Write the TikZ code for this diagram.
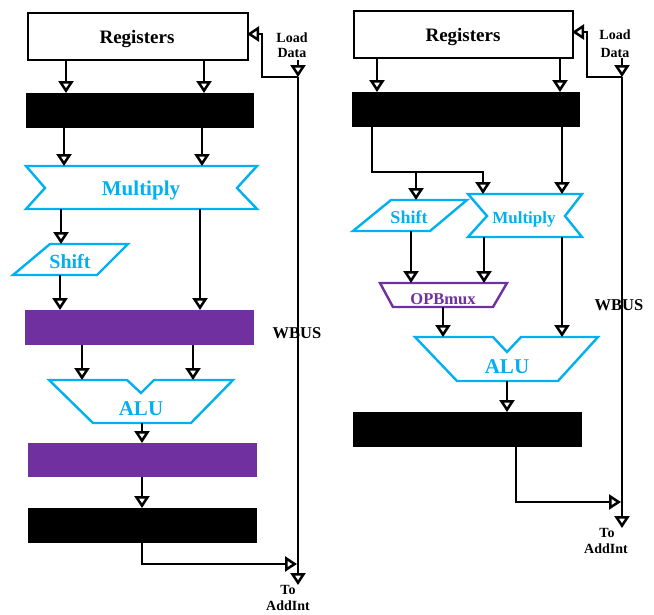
\documentclass[tikz,border=0pt]{standalone}
\usepackage{fontspec}
\setmainfont{Liberation Serif}
\usetikzlibrary{arrows.meta}
\definecolor{cy}{HTML}{00B0F0}
\definecolor{pu}{HTML}{7030A0}
\begin{document}
\begin{tikzpicture}[x=1pt,y=-1pt,
  wire/.style={line width=2.5pt},
  arr/.style={line width=2.5pt,-{Triangle[length=12pt,width=15pt,fill=white]}},
  regbox/.style={draw,line width=2.4pt,fill=white,inner sep=0,anchor=north west},
  blkbox/.style={fill=black,inner sep=0,anchor=north west},
  purbox/.style={fill=pu,inner sep=0,anchor=north west},
  cyshape/.style={draw=cy,line width=2.4pt,fill=white,line join=miter},
  pushape/.style={draw=pu,line width=2.4pt,fill=white},
  lbl/.style={inner sep=0,anchor=base,font=\bfseries},
  cytxt/.style={lbl,text=cy},
  small/.style={lbl,font=\bfseries\fontsize{14}{16}\selectfont},
]
\useasboundingbox (0,0) rectangle (654,614);

% ================= LEFT =================
\node[regbox,minimum width=220pt,minimum height=47pt] (regL) at (27,12) {};
\node[lbl,font=\bfseries\fontsize{19}{21}\selectfont] (regLt) at (137,43) {Registers};
\node[blkbox,minimum width=228pt,minimum height=35pt] (blkL1) at (26,93) {};
\draw[cyshape] (26,166) -- (257,166) -- (237,188) -- (257,209) -- (26,209) -- (45,188) -- cycle;
\node[cytxt,font=\bfseries\fontsize{21}{23}\selectfont] (mulL) at (141,195) {Multiply};
\draw[cyshape] (50,244) -- (128,244) -- (97,275) -- (13,275) -- cycle;
\node[cytxt,font=\bfseries\fontsize{20}{22}\selectfont] (shL) at (70,268) {Shift};
\node[purbox,minimum width=229pt,minimum height=35pt] (purL1) at (25,310) {};
\draw[cyshape] (49,380) -- (127,380) -- (141,393) -- (154,380) -- (233,380) -- (191,423) -- (93,423) -- cycle;
\node[cytxt,font=\bfseries\fontsize{21}{23}\selectfont] (aluL) at (141,415) {ALU};
\node[purbox,minimum width=229pt,minimum height=34pt] (purL2) at (28,443) {};
\node[blkbox,minimum width=229pt,minimum height=35pt] (blkL2) at (28,508) {};

\coordinate (ldL) at (298,77);
\coordinate (ldLtop) at (298,60);
\coordinate (wbL) at (298,585);
\coordinate (cL1) at (262,77);
\coordinate (cL2) at (262,34);
\coordinate (cL3) at (142,564);
\coordinate (cL4) at (297,564);

\draw[arr] (66,59) -- (66,93);
\draw[arr] (204,59) -- (204,93);
\draw[arr] (64,128) -- (64,166);
\draw[arr] (202,128) -- (202,166);
\draw[arr] (61,209) -- (61,244);
\draw[arr] (200,209) -- (200,310);
\draw[arr] (60,275) -- (60,310);
\draw[arr] (82,345) -- (82,380);
\draw[arr] (193,345) -- (193,380);
\draw[arr] (142,423) -- (142,443);
\draw[arr] (142,477) -- (142,508);
\draw[arr] (142,543) -- (cL3) -- (cL4);
\draw[arr] (ldL) -- (wbL);
\draw[arr] (ldL) -- (cL1) -- (cL2) -- (247,34);
\draw[arr] (ldLtop) -- (ldL);

\node[small] (loadL) at (292,42) {Load};
\node[small] (dataL) at (292,57) {Data};
\node[lbl,font=\bfseries\fontsize{16.5}{18}\selectfont] (wbusL) at (297,338) {WBUS};
\node[small] (toL) at (288,594) {To};
\node[small] (addL) at (288,610) {AddInt};

% ================= RIGHT =================
\node[regbox,minimum width=219pt,minimum height=47pt] (regR) at (353,10) {};
\node[lbl,font=\bfseries\fontsize{19}{21}\selectfont] (regRt) at (463,41) {Registers};
\node[blkbox,minimum width=228pt,minimum height=35pt] (blkR1) at (352,92) {};
\draw[cyshape] (391,200) -- (467,200) -- (430,231) -- (353,231) -- cycle;
\node[cytxt,font=\bfseries\fontsize{18}{20}\selectfont] (shR) at (409,223) {Shift};
\draw[cyshape] (468,194) -- (582,194) -- (565,216) -- (582,237) -- (468,237) -- (487,216) -- cycle;
\node[cytxt,font=\bfseries\fontsize{17}{19}\selectfont] (mulR) at (524,223) {Multiply};
\draw[pushape] (380,283) -- (507,283) -- (493,307) -- (393,307) -- cycle;
\node[lbl,text=pu,font=\bfseries\fontsize{16.5}{18}\selectfont] (opb) at (443,304) {OPBmux};
\draw[cyshape] (415,337) -- (493,337) -- (507,352) -- (521,337) -- (598,337) -- (558,381) -- (457,381) -- cycle;
\node[cytxt,font=\bfseries\fontsize{21}{23}\selectfont] (aluR) at (507,373) {ALU};
\node[blkbox,minimum width=229pt,minimum height=35pt] (blkR2) at (353,412) {};

\coordinate (ldR) at (622,77);
\coordinate (ldRtop) at (622,58);
\coordinate (wbR) at (622,528);
\coordinate (cR1) at (587,77);
\coordinate (cR2) at (587,32);
\coordinate (sp1) at (372,172);
\coordinate (sp2) at (483,172);
\coordinate (sp3) at (416,172);
\coordinate (cR3) at (516,502);
\coordinate (cR4) at (621,502);

\draw[arr] (377,57) -- (377,92);
\draw[arr] (560,57) -- (560,92);
\draw[arr] (372,127) -- (sp1) -- (sp2) -- (483,194);
\draw[arr] (sp3) -- (416,200);
\draw[arr] (562,127) -- (562,194);
\draw[arr] (411,231) -- (411,283);
\draw[arr] (484,237) -- (484,283);
\draw[arr] (443,307) -- (443,337);
\draw[arr] (562,237) -- (562,337);
\draw[arr] (507,381) -- (507,412);
\draw[arr] (516,447) -- (cR3) -- (cR4);
\draw[arr] (ldR) -- (wbR);
\draw[arr] (ldR) -- (cR1) -- (cR2) -- (572,32);
\draw[arr] (ldRtop) -- (ldR);

\node[small] (loadR) at (615,39) {Load};
\node[small] (dataR) at (615,57) {Data};
\node[lbl,font=\bfseries\fontsize{16.5}{18}\selectfont] (wbusR) at (619,310) {WBUS};
\node[small] (toR) at (607,537) {To};
\node[small] (addR) at (606,553) {AddInt};
\end{tikzpicture}
\end{document}
